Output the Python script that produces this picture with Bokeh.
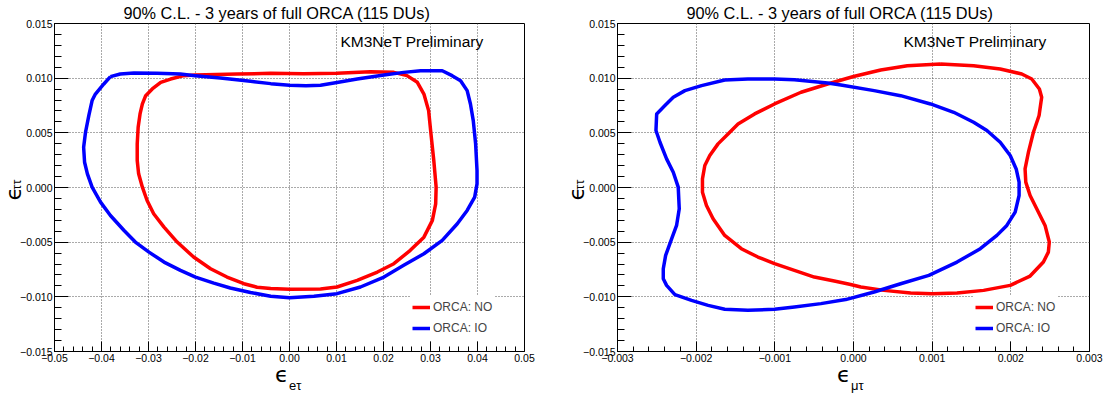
import numpy as np
from bokeh.plotting import figure
from bokeh.layouts import row
from bokeh.models import FixedTicker, Label, Legend, LegendItem, Range1d, Title
from bokeh.embed import file_html
from bokeh.resources import INLINE

FONT = "Liberation Sans"
SYM_FONT = "DejaVu Sans"

title_text = "90% C.L. - 3 years of full ORCA (115 DUs)"
watermark_text = "KM3NeT Preliminary"
series_names = ["ORCA: NO", "ORCA: IO"]
eps_symbol = "\u03f5"
left_x_sub = "e\u03c4"
right_x_sub = "\u03bc\u03c4"
y_sub = "\u03c4\u03c4"

# ---------------- tick values / labels ----------------
y_ticks = [-0.015, -0.010, -0.005, 0.0, 0.005, 0.010, 0.015]
y_tick_labels = ["\u22120.015", "\u22120.010", "\u22120.005", "0.000", "0.005", "0.010", "0.015"]
left_x_ticks = [-0.05, -0.04, -0.03, -0.02, -0.01, 0.0, 0.01, 0.02, 0.03, 0.04, 0.05]
left_x_tick_labels = ["\u22120.05", "\u22120.04", "\u22120.03", "\u22120.02", "\u22120.01", "0.00",
                      "0.01", "0.02", "0.03", "0.04", "0.05"]
right_x_ticks = [-0.003, -0.002, -0.001, 0.0, 0.001, 0.002, 0.003]
right_x_tick_labels = ["\u22120.003", "\u22120.002", "\u22120.001", "0.000", "0.001", "0.002", "0.003"]

# ---------------- left panel: eps_etau vs eps_tautau ----------------
et_io_x = [-0.0381, -0.0360, -0.0331, -0.0282, -0.0232, -0.0201, -0.0147, -0.0083, -0.0040, 0.0000,
           0.0035, 0.0066, 0.0101, 0.0144, 0.0201, 0.0243, 0.0279, 0.0325, 0.0346, 0.0364,
           0.0378, 0.0385, 0.0391, 0.0396, 0.0399, 0.0399, 0.0394, 0.0378, 0.0357, 0.0325,
           0.0286, 0.0243, 0.0201, 0.0151, 0.0101, 0.0052, 0.0000, -0.0040, -0.0083, -0.0126,
           -0.0161, -0.0200, -0.0232, -0.0267, -0.0299, -0.0328, -0.0352, -0.0381, -0.0402, -0.0420,
           -0.0430, -0.0436, -0.0438, -0.0434, -0.0427, -0.0420, -0.0413, -0.0395]
et_io_y = [0.01014, 0.01038, 0.01047, 0.01044, 0.01038, 0.01023, 0.01002, 0.00971, 0.00950, 0.00935,
           0.00930, 0.00935, 0.00960, 0.00992, 0.01029, 0.01053, 0.01068, 0.01068, 0.01023, 0.00977,
           0.00886, 0.00764, 0.00612, 0.00399, 0.00155, 0.00033, -0.00088, -0.00210, -0.00332, -0.00484,
           -0.00606, -0.00712, -0.00819, -0.00910, -0.00971, -0.00995, -0.01008, -0.00995, -0.00960, -0.00919,
           -0.00874, -0.00819, -0.00758, -0.00682, -0.00591, -0.00499, -0.00393, -0.00256, -0.00134, 0.00003,
           0.00125, 0.00231, 0.00368, 0.00505, 0.00658, 0.00795, 0.00855, 0.00947]

et_no_x = [-0.0225, -0.0201, -0.0111, -0.0040, 0.0030, 0.0101, 0.0172, 0.0222, 0.0250, 0.0272,
           0.0286, 0.0296, 0.0301, 0.0307, 0.0312, 0.0311, 0.0304, 0.0286, 0.0257, 0.0222,
           0.0187, 0.0144, 0.0101, 0.0066, 0.0000, -0.0040, -0.0069, -0.0097, -0.0133, -0.0168,
           -0.0204, -0.0239, -0.0267, -0.0289, -0.0303, -0.0313, -0.0321, -0.0324, -0.0324, -0.0322,
           -0.0318, -0.0313, -0.0306, -0.0292, -0.0274, -0.0253]
et_no_y = [0.01023, 0.01029, 0.01038, 0.01044, 0.01041, 0.01044, 0.01059, 0.01053, 0.01023, 0.00962,
           0.00855, 0.00703, 0.00490, 0.00247, 0.00003, -0.00149, -0.00301, -0.00454, -0.00575, -0.00697,
           -0.00773, -0.00849, -0.00910, -0.00928, -0.00930, -0.00924, -0.00912, -0.00880, -0.00819, -0.00743,
           -0.00636, -0.00499, -0.00362, -0.00240, -0.00119, 0.00003, 0.00125, 0.00247, 0.00399, 0.00551,
           0.00673, 0.00764, 0.00840, 0.00901, 0.00962, 0.00992]

# ---------------- right panel: eps_mutau vs eps_tautau ----------------
mt_io_x = [0.000262, -0.000160, -0.000329, -0.000751, -0.001004, -0.001342, -0.001637, -0.001932, -0.002143, -0.002291,
           -0.002397, -0.002502, -0.002511, -0.002460, -0.002376, -0.002291, -0.002228, -0.002215, -0.002249, -0.002312,
           -0.002388, -0.002418, -0.002418, -0.002376, -0.002270, -0.002059, -0.001848, -0.001637, -0.001342, -0.001004,
           -0.000751, -0.000414, -0.000100, 0.000262, 0.000599, 0.000958, 0.001316, 0.001612, 0.001823, 0.001949,
           0.002055, 0.002105, 0.002105, 0.002068, 0.001992, 0.001865, 0.001696, 0.001527, 0.001274, 0.000979,
           0.000599]
mt_io_y = [0.00886, 0.00938, 0.00956, 0.00986, 0.00992, 0.00992, 0.00983, 0.00932, 0.00886, 0.00825,
           0.00749, 0.00673, 0.00521, 0.00414, 0.00262, 0.00140, 0.00003, -0.00195, -0.00347, -0.00469,
           -0.00621, -0.00743, -0.00834, -0.00895, -0.00980, -0.01032, -0.01078, -0.01114, -0.01123, -0.01114,
           -0.01093, -0.01062, -0.01025, -0.00956, -0.00880, -0.00804, -0.00682, -0.00560, -0.00438, -0.00347,
           -0.00225, -0.00073, 0.00049, 0.00170, 0.00292, 0.00414, 0.00521, 0.00597, 0.00688, 0.00764,
           0.00840]

mt_no_x = [0.001105, 0.000684, 0.000346, 0.000000, -0.000329, -0.000667, -0.001004, -0.001257, -0.001468, -0.001595,
           -0.001722, -0.001827, -0.001890, -0.001920, -0.001920, -0.001869, -0.001785, -0.001637, -0.001426, -0.001215,
           -0.001004, -0.000751, -0.000498, -0.000245, -0.000050, 0.000093, 0.000388, 0.000726, 0.001000, 0.001316,
           0.001654, 0.001992, 0.002245, 0.002414, 0.002477, 0.002489, 0.002435, 0.002329, 0.002245, 0.002190,
           0.002181, 0.002224, 0.002287, 0.002359, 0.002392, 0.002363, 0.002266, 0.002139, 0.001865, 0.001527]
mt_no_y = [0.01129, 0.01114, 0.01075, 0.01015, 0.00947, 0.00871, 0.00764, 0.00673, 0.00581, 0.00490,
           0.00399, 0.00292, 0.00201, 0.00079, -0.00043, -0.00164, -0.00286, -0.00438, -0.00560, -0.00636,
           -0.00697, -0.00758, -0.00819, -0.00855, -0.00885, -0.00910, -0.00941, -0.00965, -0.00971, -0.00965,
           -0.00941, -0.00895, -0.00810, -0.00682, -0.00591, -0.00499, -0.00347, -0.00195, -0.00073, 0.00049,
           0.00170, 0.00323, 0.00505, 0.00658, 0.00825, 0.00901, 0.00992, 0.01038, 0.01084, 0.01114]

FIG_W, FIG_H = 552, 396
BORDER_TOP, BORDER_BOTTOM = 23, 45


def closed(v):
    return list(v) + [v[0]]


def side_title(text, font, size, align, offset, standoff):
    return Title(text=text, text_font=font, text_font_size=size, text_font_style="normal",
                 text_color="black", align=align, offset=offset, standoff=standoff,
                 vertical_align="middle")


def make_panel(x_ticks, x_tick_labels, x_sub, no_xy, io_xy, b_left, b_right, eps_off, sub_off):
    xmin, xmax = x_ticks[0], x_ticks[-1]
    ymin, ymax = y_ticks[0], y_ticks[-1]
    fh = FIG_H - BORDER_TOP - BORDER_BOTTOM

    p = figure(width=FIG_W, height=FIG_H, x_range=Range1d(xmin, xmax), y_range=Range1d(ymin, ymax),
               output_backend="svg", toolbar_location=None,
               min_border_left=b_left, min_border_right=b_right,
               min_border_top=BORDER_TOP, min_border_bottom=BORDER_BOTTOM)
    p.background_fill_color = "white"
    p.border_fill_color = "white"
    p.outline_line_color = "black"
    p.outline_line_width = 1
    p.outline_line_alpha = 1

    # main title (above panel)
    p.title.text = title_text
    p.title.text_font = FONT
    p.title.text_font_size = "16.3px"
    p.title.text_font_style = "normal"
    p.title.text_color = "black"
    p.title.align = "left"
    p.title.offset = 69
    p.title.standoff = 2
    p.title.vertical_align = "middle"

    xstep = (x_ticks[1] - x_ticks[0]) / 5
    x_minor = [x_ticks[0] + i * xstep for i in range(int(round((xmax - xmin) / xstep)) + 1)]
    ystep = (y_ticks[1] - y_ticks[0]) / 5
    y_minor = [y_ticks[0] + i * ystep for i in range(int(round((ymax - ymin) / ystep)) + 1)]

    p.xaxis.ticker = FixedTicker(ticks=x_ticks, minor_ticks=x_minor)
    p.yaxis.ticker = FixedTicker(ticks=y_ticks, minor_ticks=y_minor)
    p.xaxis.major_label_overrides = {t: s for t, s in zip(x_ticks, x_tick_labels)}
    p.yaxis.major_label_overrides = {t: s for t, s in zip(y_ticks, y_tick_labels)}

    for ax in (p.xaxis[0], p.yaxis[0]):
        ax.major_tick_out = 0
        ax.minor_tick_out = 0
        ax.axis_line_color = "black"
        ax.major_tick_line_color = "black"
        ax.minor_tick_line_color = "black"
        ax.major_label_text_font = FONT
        ax.major_label_text_font_size = "10.5px"
        ax.major_label_text_color = "black"
        ax.major_label_standoff = 2
    p.xaxis.major_tick_in = 10
    p.xaxis.minor_tick_in = 5
    p.yaxis.major_tick_in = 14
    p.yaxis.minor_tick_in = 7

    for g in (p.xgrid[0], p.ygrid[0]):
        g.grid_line_color = "#555555"
        g.grid_line_dash = "1 2"
        g.grid_line_width = 1

    r_no = p.line(closed(no_xy[0]), closed(no_xy[1]), line_color="#ff0000", line_width=3.5,
                  line_join="round")
    r_io = p.line(closed(io_xy[0]), closed(io_xy[1]), line_color="#0000ff", line_width=3.5,
                  line_join="round")

    leg = Legend(items=[LegendItem(label=series_names[0], renderers=[r_no]),
                        LegendItem(label=series_names[1], renderers=[r_io])],
                 location=(356, 11), orientation="vertical", padding=2, margin=0, spacing=1,
                 glyph_width=18, glyph_height=20, label_height=20, label_standoff=3,
                 label_text_font=FONT, label_text_font_size="12px",
                 border_line_alpha=0, background_fill_color="white", background_fill_alpha=1)
    p.add_layout(leg)

    p.add_layout(Label(x=286, y=fh - 18, x_units="screen", y_units="screen", text=watermark_text,
                       text_font=FONT, text_font_size="15.5px", text_align="left",
                       text_baseline="middle", text_color="black"))

    # x axis title: epsilon then subscript, stacked below the axis
    p.add_layout(side_title(eps_symbol, SYM_FONT, "22px", "right", eps_off, -7), "below")
    p.add_layout(side_title(x_sub, FONT, "13px", "left", sub_off, -15), "below")
    # y axis title: subscript closest to the axis, epsilon further out
    p.add_layout(side_title(y_sub, FONT, "13px", "left", 161.5, -15), "left")
    p.add_layout(side_title(eps_symbol, SYM_FONT, "22px", "left", 151, -22), "left")
    return p


p1 = make_panel(left_x_ticks, left_x_tick_labels, left_x_sub,
                (et_no_x, et_no_y), (et_io_x, et_io_y), 54, 28, 236, 234.5)
p2 = make_panel(right_x_ticks, right_x_tick_labels, right_x_sub,
                (mt_no_x, mt_no_y), (mt_io_x, mt_io_y), 65, 15, 239, 233.5)

layout = row(p1, p2)
open("out.html", "w").write(file_html(layout, INLINE))
